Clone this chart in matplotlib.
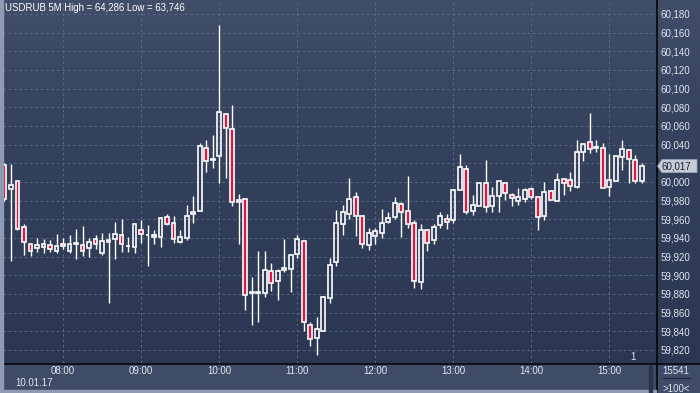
import matplotlib
matplotlib.use("Agg")
import matplotlib.pyplot as plt
import numpy as np
from matplotlib.patches import Rectangle, Polygon
from matplotlib.lines import Line2D
from matplotlib.colors import LinearSegmentedColormap

plt.rcParams['font.family'] = ['Liberation Sans', 'DejaVu Sans']

title = "USDRUB 5M High = 64,286 Low = 63,746"
date_label = "10.01.17"
hour_labels = ["08:00", "09:00", "10:00", "11:00", "12:00", "13:00", "14:00", "15:00"]
hour_index = [9, 21, 33, 45, 57, 69, 81, 93]   # candle index of each hour (5-min bars from 07:15)
price_ticks = list(range(59820, 60181, 20))
counter_top = "15541"
counter_bottom = ">100<"

opens = [60018, 59992, 60001, 59952, 59934, 59929, 59930, 59932, 59926, 59934,
         59926, 59935, 59932, 59929, 59939, 59924, 59938, 59939, 59943, 59931,
         59930, 59949, 59943, 59941, 59941, 59962, 59956, 59936, 59940, 59966,
         59969, 60036, 60024, 60028, 60073, 60057, 59978, 59982, 59881, 59881,
         59881, 59905, 59894, 59906, 59907, 59923, 59937, 59847, 59833, 59840,
         59876, 59914, 59955, 59966, 59984, 59963, 59932, 59942, 59945, 59957,
         59962, 59976, 59969, 59956, 59893, 59949, 59938, 59954, 59960, 59959,
         59991, 60014, 59969, 59974, 59999, 59974, 59985, 59999, 59986, 59980,
         59982, 59992, 59984, 59963, 59990, 59980, 60003, 60002, 59995, 60032,
         60043, 60036, 60036, 59995, 60001, 60027, 60034, 60024, 60001]
highs = [60020, 60019, 60001, 59955, 59934, 59940, 59939, 59938, 59944, 59940,
         59943, 59950, 59953, 59940, 59943, 59945, 59945, 59957, 59960, 59941,
         59955, 59959, 59954, 59949, 59962, 59966, 59964, 59949, 59975, 59985,
         60042, 60045, 60050, 60168, 60073, 60082, 59987, 59982, 59898, 59926,
         59926, 59913, 59907, 59939, 59922, 59943, 59937, 59850, 59855, 59878,
         59919, 59970, 59975, 60004, 59989, 59965, 59951, 59951, 59971, 59968,
         59984, 59979, 60006, 59959, 59955, 59949, 59955, 59968, 59966, 59992,
         60030, 60018, 59986, 59999, 60024, 59995, 60001, 59999, 59988, 59993,
         59993, 59995, 59984, 60000, 59990, 60010, 60003, 60011, 60045, 60041,
         60074, 60045, 60042, 60030, 60028, 60045, 60034, 60029, 60020]
lows = [59980, 59915, 59948, 59922, 59921, 59925, 59924, 59925, 59924, 59928,
        59924, 59917, 59921, 59920, 59928, 59922, 59870, 59917, 59925, 59925,
        59924, 59935, 59910, 59933, 59930, 59954, 59935, 59935, 59938, 59956,
        59969, 60011, 60015, 59999, 60004, 59974, 59934, 59863, 59847, 59850,
        59877, 59883, 59873, 59903, 59882, 59919, 59840, 59824, 59815, 59840,
        59870, 59910, 59943, 59960, 59942, 59929, 59927, 59934, 59940, 59956,
        59960, 59941, 59951, 59886, 59885, 59926, 59933, 59951, 59950, 59956,
        59991, 59966, 59965, 59974, 59968, 59968, 59968, 59981, 59974, 59975,
        59979, 59982, 59949, 59959, 59981, 59980, 59986, 59990, 59993, 60022,
        60031, 60032, 59993, 59985, 60001, 60013, 59999, 59999, 59999]
closes = [59982, 59997, 59950, 59936, 59926, 59932, 59933, 59928, 59931, 59931,
          59933, 59933, 59926, 59936, 59934, 59937, 59936, 59944, 59933, 59931.6,
          59955, 59944, 59943.6, 59943, 59961, 59955, 59939, 59941, 59964, 59968,
          60039, 60022, 60024.6, 60075, 60058, 59979, 59981, 59879, 59881.6, 59881.6,
          59906, 59892, 59905, 59908, 59922, 59939, 59850, 59832, 59842, 59877,
          59911, 59956, 59968, 59982, 59963, 59934, 59945, 59947, 59956, 59961,
          59977, 59968, 59955, 59894, 59948, 59935, 59952, 59963, 59957, 59991,
          60016, 59968, 59975, 59999, 59973, 59985, 60001, 59988, 59983, 59984,
          59991, 59984, 59962, 59989, 59981, 60002, 59999, 59996, 60032, 60041,
          60035, 60038, 59994, 60002, 60028, 60035, 60025, 60001, 60017]

W, H = 700, 393
fig = plt.figure(figsize=(7, 3.93), dpi=100)
fig.patch.set_facecolor('#3e4c68')

def fx(p):
    return p / W

def fy(p):
    return 1 - p / H

# gradient background for plot + price scale
bg = fig.add_axes([fx(3), fy(363), fx(697), 363 / H])
grad = np.linspace(0, 1, 256).reshape(-1, 1)
cmap = LinearSegmentedColormap.from_list('bg', ['#404e6a', '#36435f', '#303d58', '#2b3752'])
bg.imshow(grad, aspect='auto', cmap=cmap, extent=[0, 1, 0, 1], origin='upper')
bg.axis('off')
bg.set_zorder(0)

ax = fig.add_axes([fx(3), fy(363), fx(653), 363 / H])
ax.set_zorder(1)
ax.patch.set_alpha(0)
ax.set_xlim(-0.23, 100.2)
ax.set_ylim(59806, 60195)

n = len(opens)
x = np.arange(n)
o = np.array(opens, float)
h = np.array(highs, float)
l = np.array(lows, float)
c = np.array(closes, float)
top = np.maximum(o, c)
bot = np.minimum(o, c)

# wicks outside the bodies
ax.vlines(x, top, h, color='white', linewidth=1.0, zorder=3)
ax.vlines(x, l, bot, color='white', linewidth=1.0, zorder=3)

bear = c < o
bull = ~bear
w = 0.6
ax.bar(x[bear], (o - c)[bear], bottom=c[bear], width=w, color='#e0163f',
       edgecolor='white', linewidth=1.2, zorder=4)
ax.bar(x[bull], (c - o)[bull], bottom=o[bull], width=w, facecolor='none',
       edgecolor='white', linewidth=1.2, zorder=4)

last = closes[-1]

# grid
ax.set_yticks(price_ticks)
# the tick label hidden behind the current-price marker is left blank
ax.set_yticklabels(["" if abs(v - last) < 10 else f"{v:,}" for v in price_ticks])
ax.set_xticks(hour_index)
ax.set_xticklabels(hour_labels)
ax.grid(True, color='#5a6a8a', linestyle=(0, (2.5, 3)), linewidth=0.7, zorder=1)
ax.yaxis.tick_right()
ax.tick_params(axis='y', length=0, pad=3.5, labelsize=7, labelcolor='#dfe6f0')
ax.tick_params(axis='x', length=0, pad=2.5, labelsize=7, labelcolor='#dfe6f0')
for s in ax.spines.values():
    s.set_visible(False)

# separators
fig.add_artist(Line2D([fx(656.5), fx(656.5)], [fy(0), fy(393)], color='black', linewidth=1.1, transform=fig.transFigure))
fig.add_artist(Line2D([fx(3), fx(700)], [fy(363.5), fy(363.5)], color='black', linewidth=1.1, transform=fig.transFigure))
# left and bottom borders
fig.add_artist(Rectangle((0, 0), fx(3), 1, transform=fig.transFigure, color='#8e9bb2', zorder=5))
fig.add_artist(Rectangle((fx(3), 0), fx(653), 3 / H, transform=fig.transFigure, color='#8e9bb2', zorder=5))
# small scroll bar in time axis
fig.add_artist(Rectangle((fx(649), 0), fx(3), 28 / H, transform=fig.transFigure, color='#2c3648', zorder=5))

# title
fig.text(fx(5), fy(8), title, color='white', fontsize=6.9, va='center', ha='left', zorder=10)
# date label
fig.text(fx(15), fy(383), date_label, color='#dfe6f0', fontsize=7, va='center', ha='left')
# bottom-right counters
fig.text(fx(676), fy(371), counter_top, color='#dfe6f0', fontsize=7, va='center', ha='center')
fig.add_artist(Line2D([fx(663), fx(690)], [fy(377.5), fy(377.5)], color='#1e2638', linewidth=0.8, transform=fig.transFigure))
fig.text(fx(676), fy(388.5), counter_bottom, color='#dfe6f0', fontsize=7, va='center', ha='center')
# "1" marker
fig.text(fx(633), fy(357), "1", color='#dfe6f0', fontsize=7, va='center', ha='center', zorder=10)

# current price label
fig.canvas.draw()
_, ypix = ax.transData.transform((0, last))
yc = H - ypix
pts = [(657.5, yc), (662, yc - 6.5), (697, yc - 6.5), (697, yc + 6.5), (662, yc + 6.5)]
poly = Polygon([(fx(a), fy(b)) for a, b in pts], closed=True, transform=fig.transFigure,
               facecolor='#c4ccd8', edgecolor='#9aa4b4', linewidth=0.6, zorder=8)
fig.add_artist(poly)
fig.text(fx(662), fy(yc), f"{int(round(last)):,}", color='#1c2230', fontsize=7, va='center', ha='left', zorder=9)

fig.savefig("out.png", dpi=100, facecolor=fig.get_facecolor())
